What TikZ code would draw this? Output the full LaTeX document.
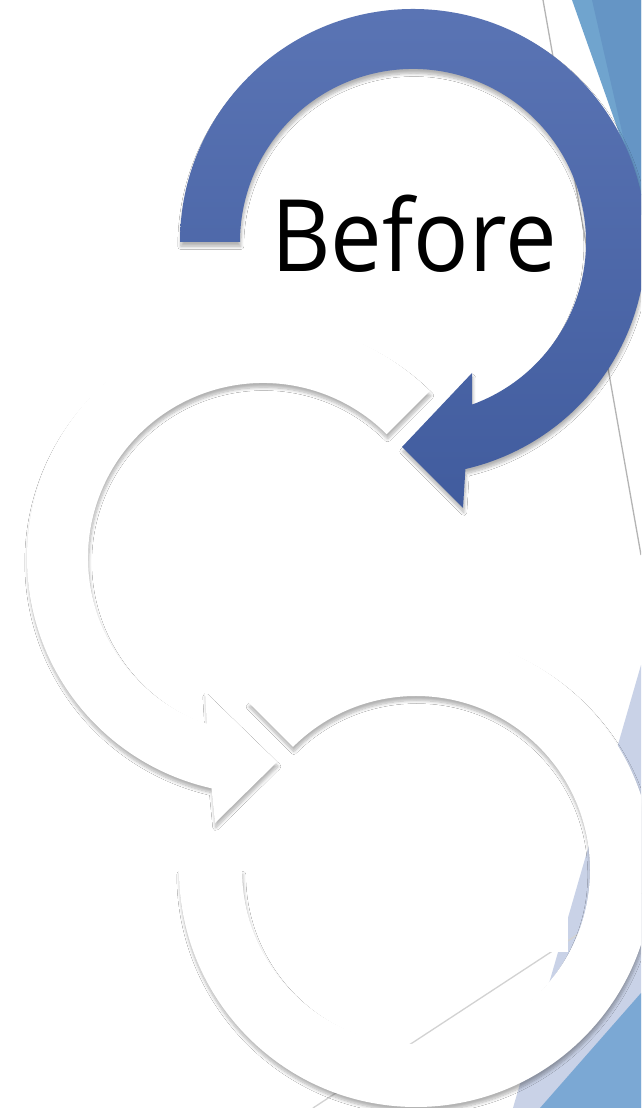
\documentclass[tikz,border=0pt]{standalone}
\usepackage{fontspec}
\setmainfont{Open Sans}
\usetikzlibrary{calc,shadows.blur}
\definecolor{lightblue}{HTML}{70A4CE}
\definecolor{midblue}{HTML}{6595C5}
\definecolor{lavender}{HTML}{C9D2E7}
\definecolor{bottomblue}{HTML}{7BA8D4}
\definecolor{linegray}{HTML}{B4B4B4}
\definecolor{linegraylight}{HTML}{D2D2D2}
\definecolor{arrowtop}{HTML}{5A74B4}
\definecolor{arrowbot}{HTML}{415C9E}
\begin{document}
\begin{tikzpicture}[x=1pt,y=1pt,
  softshadow/.style={blur shadow={shadow xshift=0.8pt,shadow yshift=-4.5pt,shadow blur radius=3pt,shadow blur steps=8,shadow opacity=30}},
  whitearrow/.style={fill=white,softshadow},
  bluearrow/.style={top color=arrowtop,bottom color=arrowbot,softshadow},
  thinline/.style={draw=linegray,line width=1.3pt},
  thinlinelight/.style={draw=linegraylight,line width=1.3pt}]
\useasboundingbox (0,0) rectangle (641,1108);
\clip (0,0) rectangle (641,1108);
\fill[white] (0,0) rectangle (641,1108);
% background decoration
\fill[lightblue] (572,1108) -- (641,1108) -- (641,913) -- cycle;
\fill[midblue] (592,1108) -- (641,1108) -- (641,893) -- cycle;
\draw[thinline] (543,1108) -- (641,553);
\fill[lavender] (641,443) -- (641,0) -- (513,0) -- cycle;
\fill[bottomblue] (540,0) -- (641,115) -- (641,0) -- cycle;
\draw[thinlinelight] (313,0) -- (641,215);
\fill[white] (300,156) rectangle (568,380);
% arrow 3 (bottom)
\coordinate (c3) at (416,238);
\path[whitearrow] ($(c3)+(180:237)$) arc[start angle=180,end angle=495,radius=237]
  -- ($(c3)+(135:174)$) arc[start angle=135,end angle=-180,radius=174] -- cycle;
% arrow 2 (middle)
\coordinate (c2) at (263,550);
\path[whitearrow] ($(c2)+(45:236)$) arc[start angle=45,end angle=257.4,radius=236]
  -- (215,285) -- (277,346) -- (205,416)
  -- ($(c2)+(251.3:175)$) arc[start angle=251.3,end angle=45,radius=175] -- cycle;
% arrow 1 (blue)
\coordinate (c1) at (413,866);
\path[bluearrow] ($(c1)+(180:233)$) arc[start angle=180,end angle=-77,radius=233]
  -- (463,600) -- (402,661) -- (472,735)
  -- ($(c1)+(-70:173)$) arc[start angle=-70,end angle=180,radius=173] -- cycle;
\node[font=\fontsize{100}{100}\selectfont,anchor=base,inner sep=0pt,xscale=0.92] (before) at (414,836) {Before};
\end{tikzpicture}
\end{document}
